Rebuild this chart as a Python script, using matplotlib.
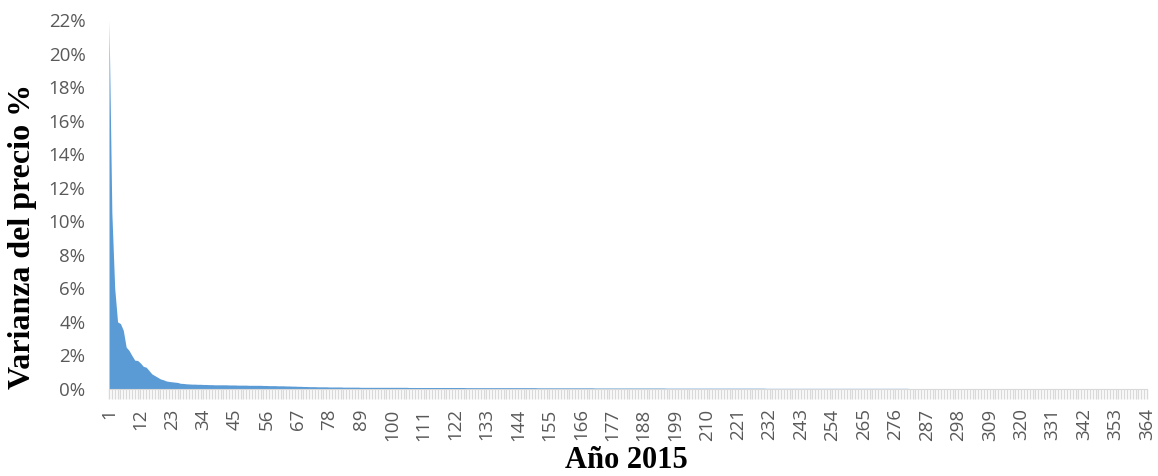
import numpy as np
import matplotlib
matplotlib.use("Agg")
import matplotlib.pyplot as plt
from matplotlib.ticker import FuncFormatter

# ======= DATOS (varianza diaria del precio, en %) =======
varianza = [
    22.0, 10.5, 6.0, 4.0, 3.9, 3.5, 2.5, 2.3, 2.0, 1.72,
    1.7, 1.55, 1.35, 1.3, 1.1, 0.9, 0.8, 0.7, 0.6, 0.55,
    0.48, 0.45, 0.43, 0.41, 0.39, 0.34, 0.33, 0.31, 0.30, 0.29,
    0.29, 0.28, 0.28, 0.27, 0.27, 0.26, 0.26, 0.25, 0.25, 0.25,
    0.25, 0.25, 0.24, 0.24, 0.24, 0.23, 0.23, 0.23, 0.23, 0.22,
    0.22, 0.22, 0.22, 0.22, 0.21, 0.21, 0.20, 0.20, 0.20, 0.19,
    0.19, 0.19, 0.18, 0.18, 0.17, 0.17, 0.16, 0.16, 0.15, 0.15,
    0.14, 0.14, 0.14, 0.13, 0.13, 0.13, 0.13, 0.12, 0.12, 0.12,
    0.12, 0.12, 0.11, 0.11, 0.11, 0.11, 0.11, 0.11, 0.10, 0.10,
    0.10, 0.10, 0.10, 0.10, 0.10, 0.10, 0.10, 0.10, 0.10, 0.10,
    0.10, 0.10, 0.10, 0.10, 0.10, 0.09, 0.09, 0.09, 0.09, 0.09,
    0.09, 0.09, 0.09, 0.09, 0.09, 0.09, 0.09, 0.09, 0.09, 0.09,
    0.09, 0.09, 0.09, 0.09, 0.09, 0.08, 0.08, 0.08, 0.08, 0.08,
    0.08, 0.08, 0.08, 0.08, 0.08, 0.08, 0.08, 0.08, 0.08, 0.08,
    0.08, 0.08, 0.08, 0.08, 0.08, 0.08, 0.08, 0.08, 0.08, 0.08,
    0.07, 0.07, 0.07, 0.07, 0.07, 0.07, 0.07, 0.07, 0.07, 0.07,
    0.07, 0.07, 0.07, 0.07, 0.07, 0.07, 0.07, 0.07, 0.07, 0.07,
    0.06, 0.06, 0.06, 0.06, 0.06, 0.06, 0.06, 0.06, 0.06, 0.06,
    0.06, 0.06, 0.06, 0.06, 0.06, 0.06, 0.06, 0.06, 0.06, 0.06,
    0.06, 0.06, 0.06, 0.06, 0.06, 0.05, 0.05, 0.05, 0.05, 0.05,
    0.05, 0.05, 0.05, 0.05, 0.05, 0.05, 0.05, 0.05, 0.05, 0.05,
    0.05, 0.05, 0.05, 0.05, 0.05, 0.05, 0.05, 0.05, 0.05, 0.05,
    0.05, 0.05, 0.05, 0.05, 0.05, 0.05, 0.05, 0.05, 0.05, 0.05,
    0.04, 0.04, 0.04, 0.04, 0.04, 0.04, 0.04, 0.04, 0.04, 0.04,
    0.04, 0.04, 0.04, 0.04, 0.04, 0.04, 0.04, 0.04, 0.04, 0.04,
    0.04, 0.04, 0.04, 0.04, 0.04, 0.04, 0.04, 0.04, 0.04, 0.04,
    0.04, 0.04, 0.04, 0.04, 0.04, 0.04, 0.04, 0.04, 0.04, 0.04,
    0.04, 0.04, 0.04, 0.04, 0.04, 0.04, 0.04, 0.04, 0.04, 0.04,
    0.03, 0.03, 0.03, 0.03, 0.03, 0.03, 0.03, 0.03, 0.03, 0.03,
    0.03, 0.03, 0.03, 0.03, 0.03, 0.03, 0.03, 0.03, 0.03, 0.03,
    0.03, 0.03, 0.03, 0.03, 0.03, 0.03, 0.03, 0.03, 0.03, 0.03,
    0.03, 0.03, 0.03, 0.03, 0.03, 0.03, 0.03, 0.03, 0.03, 0.03,
    0.03, 0.03, 0.03, 0.03, 0.03, 0.03, 0.03, 0.03, 0.03, 0.03,
    0.03, 0.03, 0.03, 0.03, 0.03, 0.03, 0.03, 0.03, 0.03, 0.03,
    0.03, 0.03, 0.03, 0.03, 0.03, 0.03, 0.03, 0.03, 0.03, 0.03,
    0.02, 0.02, 0.02, 0.02, 0.02, 0.02, 0.02, 0.02, 0.02, 0.02,
    0.02, 0.02, 0.02, 0.02,
]
dias = list(range(1, len(varianza) + 1))
etiquetas_dias = dias[::11]

# ======= GRÁFICO =======
fig = plt.figure(figsize=(11.58, 4.76), dpi=100)
ax = fig.add_axes([109 / 1158, 1 - 389 / 476, 1038 / 1158, 369 / 476])

y = np.array(varianza) / 100
ax.fill_between(dias, y, 0, color='#5B9BD5', linewidth=0)

ax.set_xlim(1, len(varianza))
ax.set_ylim(0, 0.22)

# eje Y: etiquetas cada 2 %
ax.set_yticks(np.arange(0, 0.2201, 0.02))
ax.yaxis.set_major_formatter(FuncFormatter(lambda v, p: f'{v * 100:.0f}%'))
ax.tick_params(axis='y', length=0, pad=17, labelsize=13.5, labelcolor='#595959')

# eje X: una marca por día, etiqueta cada 11 días
ax.set_xticks(dias, minor=True)
ax.set_xticks(etiquetas_dias)
ax.set_xticklabels([str(d) for d in etiquetas_dias], rotation=90)
ax.tick_params(axis='x', which='both', length=7, width=1, color='#D9D9D9', direction='out')
ax.tick_params(axis='x', which='major', pad=7, labelsize=13.5, labelcolor='#595959')

for s in ['top', 'right', 'left']:
    ax.spines[s].set_visible(False)
ax.spines['bottom'].set_color('#D9D9D9')

for lbl in ax.get_xticklabels() + ax.get_yticklabels():
    lbl.set_family(['Open Sans', 'DejaVu Sans'])

fig.text(23 / 1158, 1 - 236 / 476, 'Varianza del precio %', rotation=90,
         ha='center', va='center', fontsize=23, fontweight='bold',
         family='Liberation Serif')
fig.text(626 / 1158, 1 - 461 / 476, 'Año 2015', ha='center', va='center',
         fontsize=22, fontweight='bold', family='Liberation Serif')

fig.savefig('out.png', dpi=100)
plt.close(fig)
